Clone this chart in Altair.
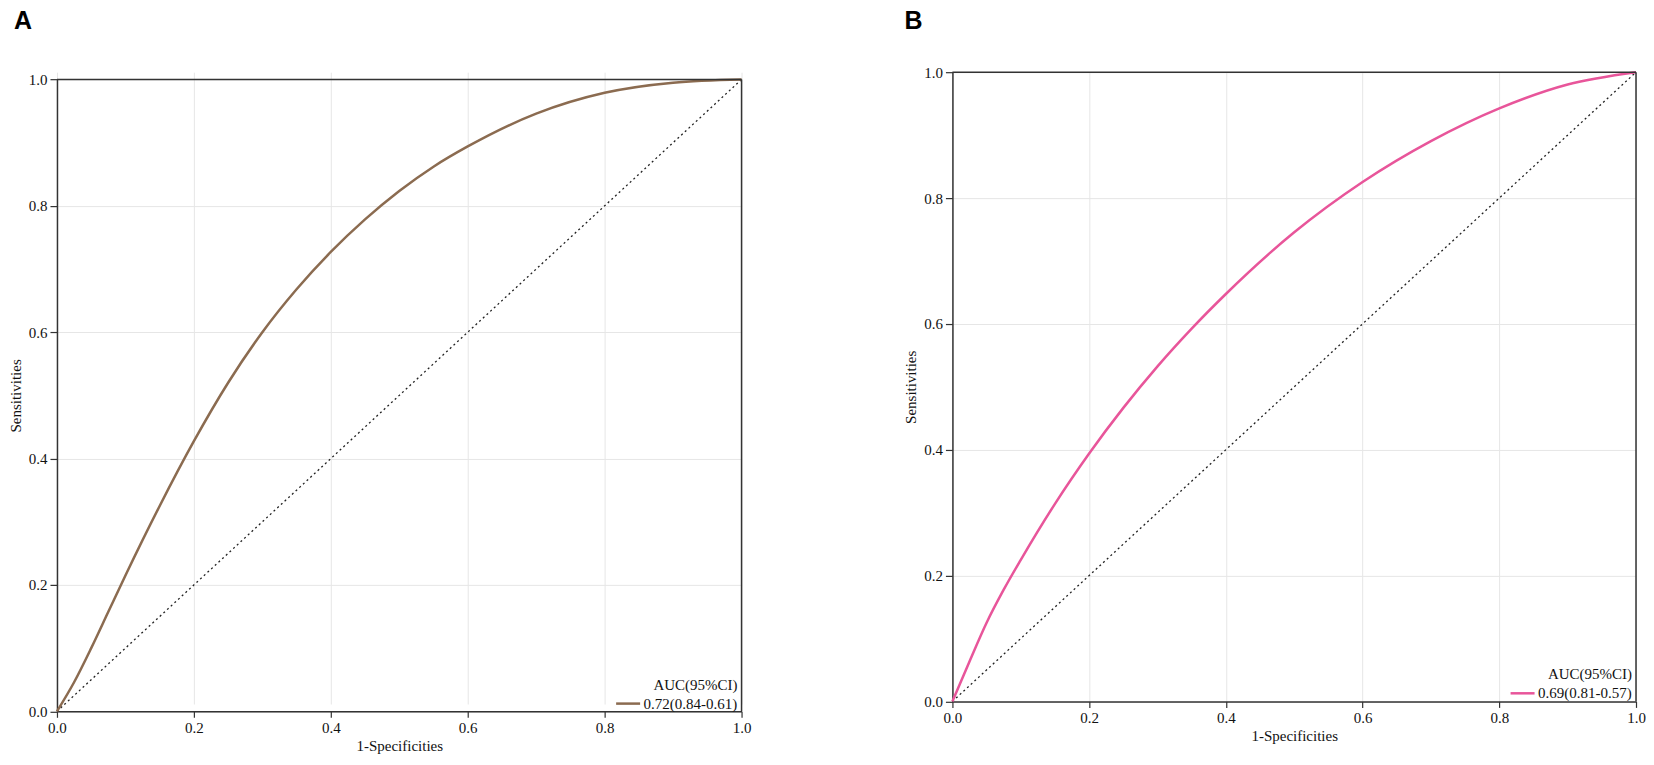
import altair as alt
import pandas as pd

# ---- data ----
a_fpr = [0, 0.025, 0.05, 0.075, 0.1, 0.15, 0.2, 0.25, 0.3, 0.35, 0.4, 0.45, 0.5, 0.55, 0.6, 0.7, 0.8, 0.9, 1.0]
a_tpr = [0, 0.046, 0.100, 0.1575, 0.215, 0.325, 0.4275, 0.520, 0.600, 0.668, 0.727, 0.7785, 0.8235, 0.862, 0.894, 0.946, 0.979, 0.995, 1.0]

b_fpr = [0, 0.025, 0.05, 0.075, 0.1, 0.15, 0.2, 0.25, 0.3, 0.35, 0.4, 0.5, 0.6, 0.7, 0.8, 0.9, 1.0]
b_tpr = [0, 0.0635, 0.125, 0.1775, 0.225, 0.314, 0.394, 0.4665, 0.5325, 0.5925, 0.6475, 0.7455, 0.8255, 0.8905, 0.9425, 0.9805, 1.0]

a_label = "0.72(0.84-0.61)"
b_label = "0.69(0.81-0.57)"
legend_title = "AUC(95%CI)"
panel_letters = ["A", "B"]
a_color = "#8b6b50"
b_color = "#e8559a"

ref_x = [0, 1]
ref_y = [0, 1]
ticks = [0, 0.2, 0.4, 0.6, 0.8, 1.0]

SERIF = "Liberation Serif"
FRAME = "#333333"


def panel(fpr, tpr, label, color, letter, w, h, top_gap, letter_dx, letter_dy, legend_x, legend_y):
    df = pd.DataFrame({"fpr": fpr, "tpr": tpr, "label": label})
    ref = pd.DataFrame({"fpr": ref_x, "tpr": ref_y})
    one = pd.DataFrame({"k": [0]})
    xenc = alt.X(
        "fpr:Q",
        scale=alt.Scale(domain=[0, 1], nice=False, zero=False),
        axis=alt.Axis(title="1-Specificities", values=ticks, format=".1f",
                      tickSize=6, labelPadding=3, titlePadding=3),
    )
    yenc = alt.Y(
        "tpr:Q",
        scale=alt.Scale(domain=[0, 1], nice=False, zero=False, range=[h, top_gap]),
        axis=alt.Axis(title="Sensitivities", values=ticks, format=".1f",
                      tickSize=7, labelPadding=3, titlePadding=5),
    )
    diag = alt.Chart(ref).mark_line(
        color="#222222", strokeDash=[2, 3], strokeWidth=1.3
    ).encode(x=xenc, y=yenc)
    curve = alt.Chart(df).mark_line(strokeWidth=2.5, interpolate="monotone").encode(
        x=xenc,
        y=yenc,
        color=alt.Color(
            "label:N",
            scale=alt.Scale(domain=[label], range=[color]),
            legend=alt.Legend(
                title=legend_title,
                orient="none",
                legendX=legend_x,
                legendY=legend_y,
                titleAnchor="end",
            ),
        ),
    )
    top_rule = alt.Chart(one).mark_rule(color=FRAME, strokeWidth=1.5).encode(
        x=alt.datum(0), x2=alt.datum(1), y=alt.datum(1)
    )
    right_rule = alt.Chart(one).mark_rule(color=FRAME, strokeWidth=1.5).encode(
        x=alt.datum(1), y=alt.datum(0), y2=alt.datum(1)
    )
    tag = alt.Chart(pd.DataFrame({"letter": [letter]})).mark_text(
        align="left",
        baseline="alphabetic",
        font="Liberation Sans",
        fontSize=25,
        fontWeight="bold",
        color="#000000",
    ).encode(text="letter:N", x=alt.value(letter_dx), y=alt.value(letter_dy))
    return alt.layer(diag, curve, top_rule, right_rule, tag).properties(width=w, height=h)


pa = panel(a_fpr, a_tpr, a_label, a_color, panel_letters[0], 685, 639.5, 7.3, -43, -43.5, 558, 605.8)
pb = panel(b_fpr, b_tpr, b_label, b_color, panel_letters[1], 684, 629.6, 0, -48, -43.5, 557, 595.5)

chart = (
    alt.hconcat(pa, pb, spacing=152)
    .resolve_scale(color="independent")
    .configure(padding=0, background="white")
    .configure_view(strokeOpacity=0)
    .configure_axis(
        domainColor=FRAME,
        domainWidth=1.5,
        tickColor=FRAME,
        tickWidth=1.2,
        labelFont=SERIF,
        labelFontSize=15,
        labelColor="#111111",
        labelFlush=False,
        labelOverlap=False,
        titleFont=SERIF,
        titleFontSize=15,
        titleFontWeight="normal",
        titleColor="#111111",
        gridColor="#e6e6e6",
        gridWidth=1,
    )
    .configure_legend(
        labelFont=SERIF,
        labelFontSize=15,
        labelColor="#111111",
        titleFont=SERIF,
        titleFontSize=15,
        titleFontWeight="normal",
        titleColor="#111111",
        symbolType="stroke",
        symbolSize=576,
        symbolStrokeWidth=2.5,
        labelOffset=2,
        titlePadding=-2.5,
        padding=0,
    )
)

chart.save("out.html", embed_options={"renderer": "svg", "actions": False})
